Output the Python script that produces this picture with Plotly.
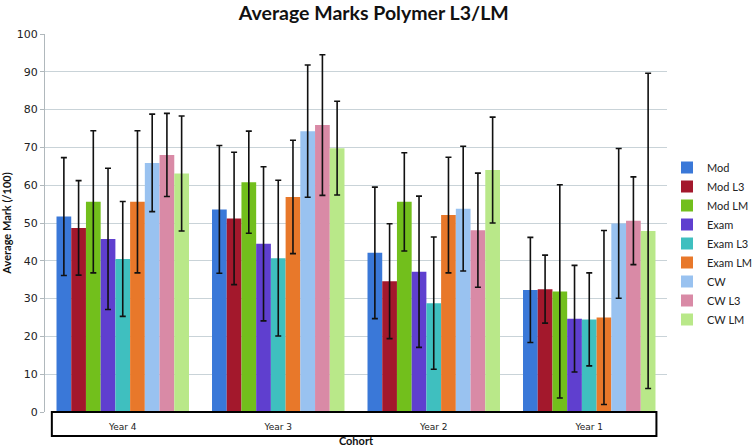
import plotly.graph_objects as go

cohorts = ["Year 4", "Year 3", "Year 2", "Year 1"]
series_names = ["Mod", "Mod L3", "Mod LM", "Exam", "Exam L3", "Exam LM", "CW", "CW L3", "CW LM"]

mod = [51.7, 53.6, 42.1, 32.3]
mod_l3 = [48.7, 51.2, 34.6, 32.5]
mod_lm = [55.6, 60.8, 55.6, 31.9]
exam = [45.8, 44.5, 37.1, 24.7]
exam_l3 = [40.5, 40.7, 28.8, 24.5]
exam_lm = [55.6, 56.9, 52.1, 25.0]
cw = [65.9, 74.3, 53.8, 49.9]
cw_l3 = [68.0, 75.9, 48.1, 50.6]
cw_lm = [63.1, 69.8, 64.0, 47.9]

mod_err = [15.6, 16.9, 17.4, 13.9]
mod_l3_err = [12.5, 17.5, 15.2, 9.0]
mod_lm_err = [18.8, 13.5, 13.0, 28.2]
exam_err = [18.7, 20.4, 20.0, 14.1]
exam_l3_err = [15.2, 20.6, 17.5, 12.3]
exam_lm_err = [18.8, 15.0, 15.3, 23.0]
cw_err = [12.9, 17.5, 16.5, 19.8]
cw_l3_err = [11.0, 18.6, 15.1, 11.6]
cw_lm_err = [15.2, 12.4, 14.0, 41.7]

values = [mod, mod_l3, mod_lm, exam, exam_l3, exam_lm, cw, cw_l3, cw_lm]
errors = [mod_err, mod_l3_err, mod_lm_err, exam_err, exam_l3_err, exam_lm_err, cw_err, cw_l3_err, cw_lm_err]
colors = ["#3a78d8", "#a3182c", "#72bf1c", "#5f3fcf", "#3fbfbf", "#e8782a", "#99c2f0", "#d98aa6", "#b9e889"]

fig = go.Figure()
for name, vals, errs, col in zip(series_names, values, errors, colors):
    fig.add_trace(go.Bar(
        x=cohorts, y=vals, name=name,
        marker=dict(color=col, line=dict(width=0)),
        error_y=dict(type="data", array=errs, visible=True, color="#111111", thickness=1.6, width=3),
    ))

fig.update_layout(
    width=752, height=447,
    margin=dict(l=45, r=73, t=34, b=35),
    paper_bgcolor="white", plot_bgcolor="white",
    barmode="group", bargap=0.148, bargroupgap=0,
    title=dict(text="<b>Average Marks Polymer L3/LM</b>", x=0.497, xanchor="center",
               yref="container", y=1 - 13 / 447, yanchor="middle",
               font=dict(family="Lato", size=19.5, color="#111111")),
    legend=dict(xref="container", yref="container", x=667 / 752, xanchor="left",
                y=1 - 153 / 447, yanchor="top",
                font=dict(family="Lato", size=11, color="#222222"),
                tracegroupgap=0, itemwidth=30, bgcolor="rgba(0,0,0,0)"),
    showlegend=True,
)
fig.update_yaxes(range=[0, 100], dtick=10, showgrid=True, gridcolor="#c9d3d8", gridwidth=1,
                 automargin=False,
                 showline=True, linecolor="#b0b8bc", ticks="outside", ticklen=4, tickcolor="#b0b8bc",
                 tickfont=dict(family="DejaVu Sans", size=11, color="#222222"),
                 title=dict(text="<b>Average Mark (/100)</b>", standoff=8,
                            font=dict(family="Lato", size=11, color="#111111")),
                 zeroline=False)
fig.update_xaxes(showline=False, ticks="", showgrid=False, automargin=False,
                 ticklabelstandoff=8,
                 tickfont=dict(family="DejaVu Sans", size=9, color="#222222"),
                 title=dict(text="<b>Cohort</b>", standoff=8,
                            font=dict(family="Lato", size=11, color="#111111")))

fig.add_shape(type="rect", xref="paper", yref="paper", x0=0.011, x1=0.983, y0=-0.0635, y1=0,
              line=dict(color="black", width=2), fillcolor="rgba(0,0,0,0)", layer="above")

fig.write_html("out.html", config={"displayModeBar": False},
               post_script="document.body.style.margin='0';document.body.style.padding='0';")
